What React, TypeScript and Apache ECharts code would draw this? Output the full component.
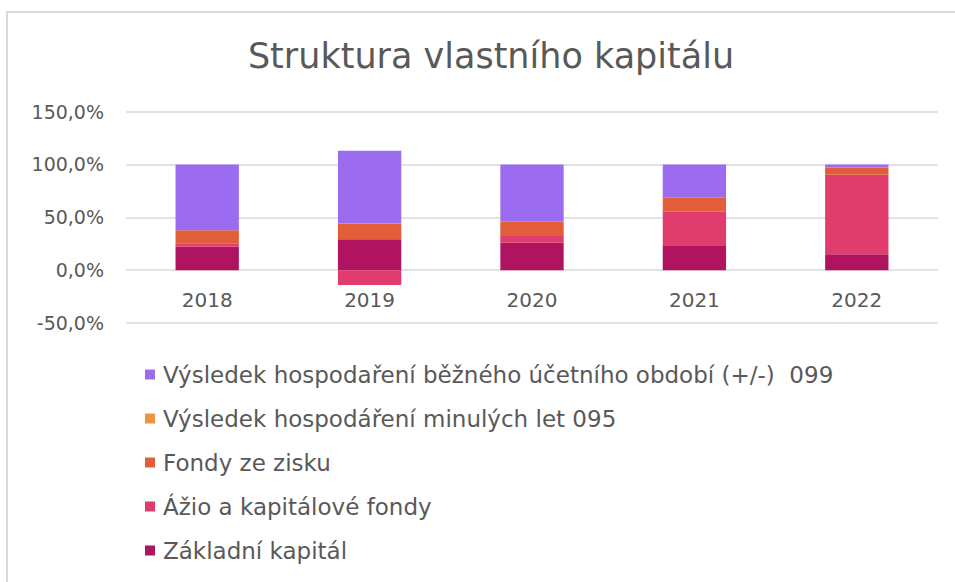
import React, { useEffect, useRef } from "react";
import * as echarts from "echarts";

const years = ["2018", "2019", "2020", "2021", "2022"];
const zakladniKapital = [22.0, 29.3, 25.9, 23.6, 15.1];
const azioFondy = [3.5, -14.0, 6.3, 31.5, 75.1];
const fondyZeZisku = [12.3, 14.9, 13.5, 13.3, 6.9];
const vysledekMinulych = [0, 0, 0, 0, 0];
const vysledekBezneho = [62.2, 68.6, 54.3, 31.6, 2.9];

const names = {
  bezny: "Výsledek hospodaření běžného účetního období (+/-)  099",
  minule: "Výsledek hospodáření minulých let 095",
  fondy: "Fondy ze zisku",
  azio: "Ážio a kapitálové fondy",
  zaklad: "Základní kapitál",
};

const FONT = "DejaVu Sans";
const TXT = "#595959";

export default function App() {
  const ref = useRef<HTMLDivElement>(null);
  useEffect(() => {
    const chart = echarts.init(ref.current!, null, { renderer: "svg" });
    const bar = (name: string, data: number[], color: string) => ({
      name,
      type: "bar",
      stack: "total",
      data,
      barWidth: "39%",
      itemStyle: { color },
    });
    chart.setOption({
      animation: false,
      backgroundColor: "#ffffff",
      title: {
        text: "Struktura vlastního kapitálu",
        left: 486,
        textAlign: "center",
        top: 33,
        textStyle: { fontFamily: FONT, fontSize: 35, fontWeight: "normal", color: TXT },
      },
      grid: { left: 126, right: 17, top: 111.5, bottom: 582 - 323 },
      xAxis: {
        type: "category",
        data: years,
        offset: -53,
        axisLine: { show: false, onZero: false },
        axisTick: { show: false },
        axisLabel: { margin: 20, fontFamily: FONT, fontSize: 20, color: TXT },
      },
      yAxis: {
        type: "value",
        min: -50,
        max: 150,
        interval: 50,
        axisLine: { show: false },
        axisTick: { show: false },
        splitLine: { lineStyle: { color: "#d9d9d9", width: 1.5 } },
        axisLabel: {
          margin: 22,
          fontFamily: FONT,
          fontSize: 19,
          color: TXT,
          formatter: (v: number) => v.toFixed(1).replace(".", ",") + "%",
        },
      },
      legend: {
        orient: "vertical",
        left: 145,
        top: 363,
        padding: 0,
        itemWidth: 10,
        itemHeight: 10,
        itemGap: 21,
        icon: "rect",
        data: [names.bezny, names.minule, names.fondy, names.azio, names.zaklad],
        textStyle: { fontFamily: FONT, fontSize: 23, color: TXT, padding: [0, 0, 0, 3] },
      },
      graphic: [
        {
          type: "polyline",
          shape: { points: [[7, 582], [7, 12], [955, 12]] },
          style: { stroke: "#d9d9d9", lineWidth: 2, fill: null },
        },
      ],
      series: [
        bar(names.zaklad, zakladniKapital, "#B0135F"),
        bar(names.azio, azioFondy, "#E03C6E"),
        bar(names.fondy, fondyZeZisku, "#E25E3A"),
        bar(names.minule, vysledekMinulych, "#EB963E"),
        bar(names.bezny, vysledekBezneho, "#9B6CF0"),
      ],
    });
    return () => chart.dispose();
  }, []);
  return (
    <div
      ref={ref}
      style={{ position: "fixed", left: 0, top: 0, width: 955, height: 582 }}
    />
  );
}
